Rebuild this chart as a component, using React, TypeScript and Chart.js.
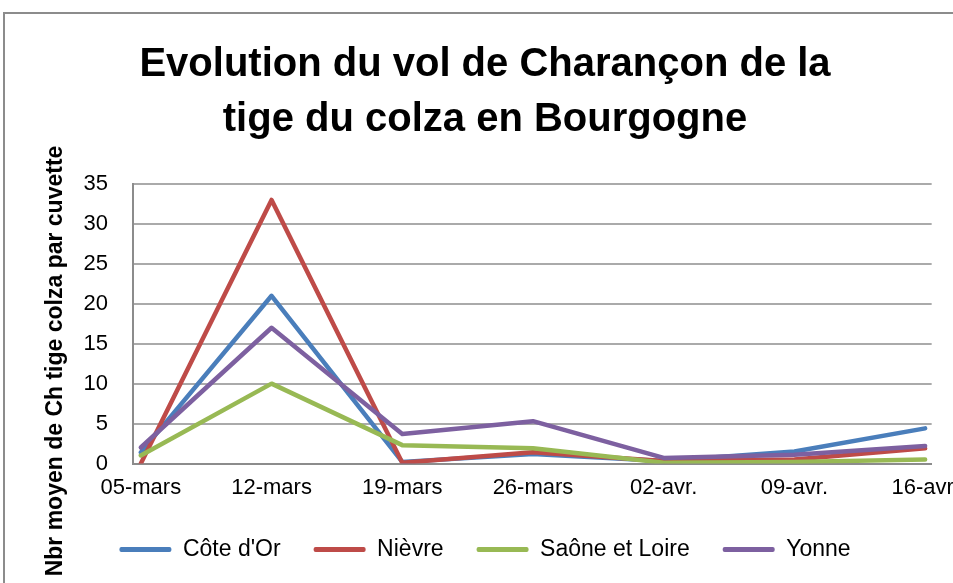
import React, { useEffect, useRef } from 'react';
import { Chart, registerables } from 'chart.js';

Chart.register(...registerables);

const categories = ['05-mars', '12-mars', '19-mars', '26-mars', '02-avr.', '09-avr.', '16-avr.'];
const coteDOr = [1.4, 21, 0.2, 1.2, 0.3, 1.5, 4.4];
const nievre = [0, 33, 0.1, 1.4, 0.3, 0.5, 1.9];
const saoneEtLoire = [1, 10, 2.3, 1.9, 0.1, 0.2, 0.5];
const yonne = [2, 17, 3.7, 5.3, 0.7, 1.1, 2.2];

const titleLines = ['Evolution du vol de Charançon de la', 'tige du colza en Bourgogne'];
const yAxisTitle = 'Nbr moyen de Ch tige colza par cuvette';

const FONT = "'Liberation Sans', Arial, sans-serif";

export default function App() {
  const ref = useRef<HTMLCanvasElement>(null);
  useEffect(() => {
    document.body.style.margin = '0';
    const frame = {
      id: 'frame',
      beforeDraw(chart: any) {
        const ctx = chart.ctx;
        ctx.save();
        ctx.fillStyle = '#ffffff';
        ctx.fillRect(0, 0, chart.width, chart.height);
        ctx.strokeStyle = '#8c8c8c';
        ctx.lineWidth = 2;
        ctx.beginPath();
        ctx.moveTo(4, chart.height + 5);
        ctx.lineTo(4, 13);
        ctx.lineTo(chart.width + 5, 13);
        ctx.stroke();
        ctx.restore();
      },
    };
    const yTitle = {
      id: 'yTitle',
      afterDraw(chart: any) {
        const ctx = chart.ctx;
        ctx.save();
        ctx.translate(56, 361);
        ctx.rotate(-Math.PI / 2);
        ctx.font = `bold 23px ${FONT}`;
        ctx.fillStyle = '#000';
        ctx.textAlign = 'center';
        ctx.textBaseline = 'middle';
        ctx.fillText(yAxisTitle, 0, 0);
        ctx.restore();
      },
    };
    const mk = (label: string, values: number[], color: string, order: number) => ({
      label,
      data: values.map((y, x) => ({ x, y })),
      borderColor: color,
      backgroundColor: color,
      borderWidth: 4.5,
      pointRadius: 0,
      pointHoverRadius: 0,
      tension: 0,
      borderJoinStyle: 'round',
      borderCapStyle: 'round',
      order,
    });
    const chart = new Chart(ref.current!, {
      type: 'line',
      data: {
        datasets: [
          mk("Côte d'Or", coteDOr, '#4a7ebb', 4),
          mk('Nièvre', nievre, '#be4b48', 3),
          mk('Saône et Loire', saoneEtLoire, '#98b954', 2),
          mk('Yonne', yonne, '#7d60a0', 1),
        ] as any,
      },
      options: {
        responsive: false,
        animation: false,
        devicePixelRatio: 1,
        layout: { padding: { left: 31, right: 31, top: 0, bottom: 12 } },
        plugins: {
          title: {
            display: true,
            text: titleLines,
            color: '#000',
            font: { family: FONT, size: 40, weight: 'bold', lineHeight: 1.375 },
            padding: { top: 37.5, bottom: 36.5 },
          },
          legend: {
            position: 'bottom',
            padding: 0,
            labels: {
              boxWidth: 52,
              boxHeight: 5,
              padding: 33,
              color: '#000',
              font: { family: FONT, size: 23 },
              useBorderRadius: true,
              borderRadius: 2,
              sort: (a: any, b: any) => a.datasetIndex - b.datasetIndex,
              generateLabels: (c: any) =>
                (Chart.defaults.plugins.legend.labels.generateLabels as any)(c).map((l: any) => ({ ...l, lineWidth: 0 })),
            },
          } as any,
          tooltip: { enabled: false },
        },
        scales: {
          x: {
            type: 'linear',
            min: -0.06,
            max: 6.05,
            afterFit: (s: any) => { s.height = 41.5; },
            ticks: {
              stepSize: 1,
              includeBounds: false,
              autoSkip: false,
              maxRotation: 0,
              padding: 11,
              color: '#000',
              font: { family: FONT, size: 22 },
              callback: (v: any) => categories[v] ?? '',
            },
            grid: { display: false, drawTicks: false },
            border: { display: true, color: '#8c8c8c', width: 2 },
          },
          y: {
            min: 0,
            max: 35,
            afterFit: (s: any) => { s.width = 102; },
            ticks: {
              stepSize: 5,
              padding: 25,
              color: '#000',
              font: { family: FONT, size: 22 },
            },
            grid: { color: '#aaaaaa', lineWidth: 2, drawTicks: false },
            border: { display: true, color: '#8c8c8c', width: 2 },
          },
        } as any,
      },
      plugins: [frame, yTitle],
    });
    return () => chart.destroy();
  }, []);
  return (
    <div style={{ width: 953, height: 583, overflow: 'hidden', position: 'relative', background: '#fff' }}>
      <canvas ref={ref} width={970} height={583} style={{ display: 'block', width: 970, height: 583 }} />
    </div>
  );
}
